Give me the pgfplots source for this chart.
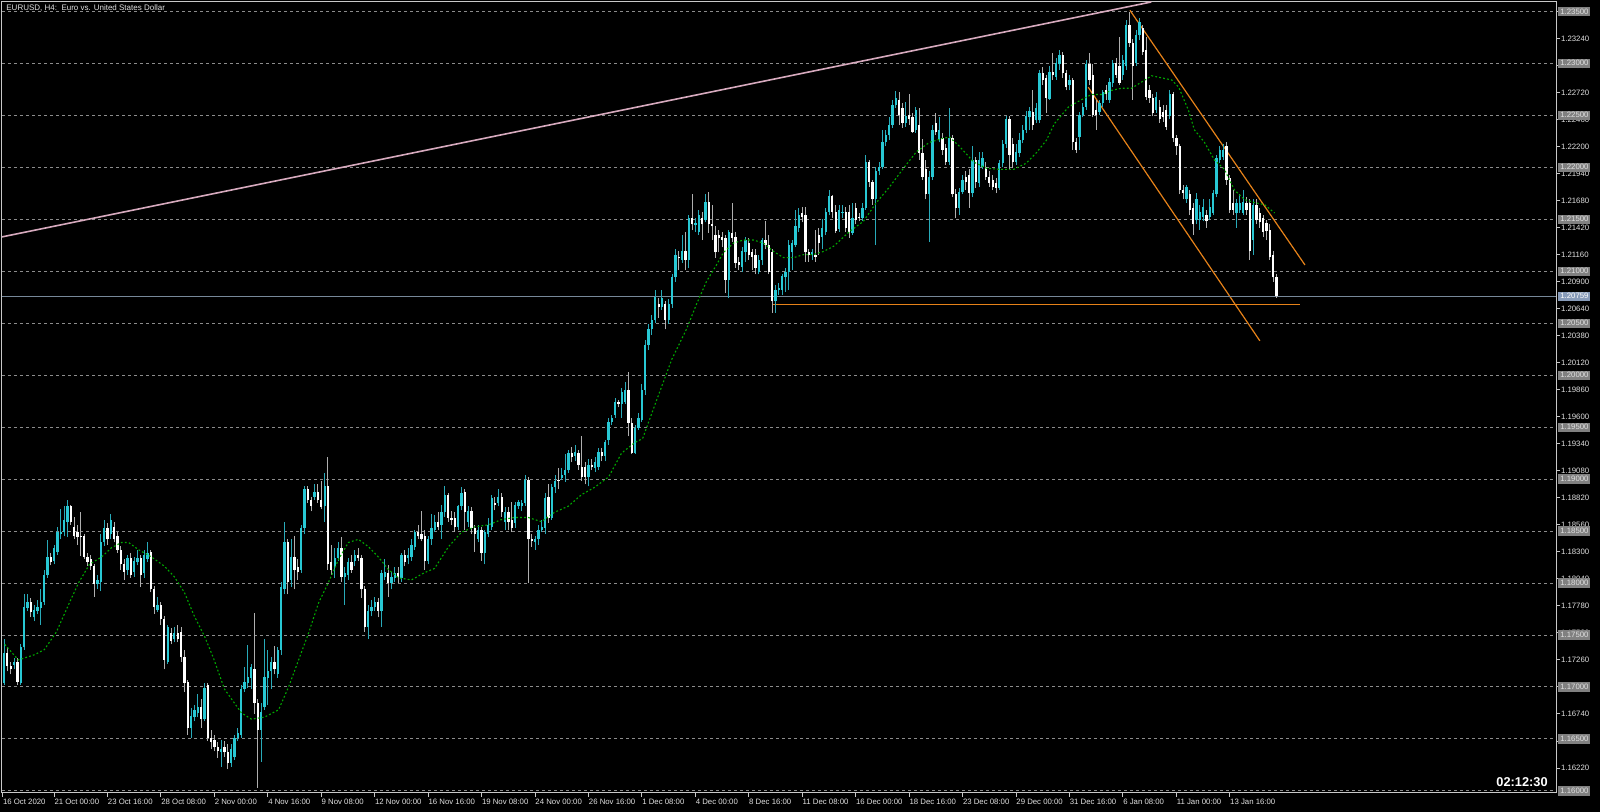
\documentclass[border=0pt]{standalone}
\usepackage{pgfplots}
\pgfplotsset{compat=1.18}
\usepackage{pgfplotstable}
\usepackage{fontspec}
\setmainfont{Liberation Sans}

\definecolor{bull}{RGB}{40,200,212}
\definecolor{bullwick}{RGB}{40,170,185}
\definecolor{bear}{RGB}{255,255,255}
\definecolor{bearwick}{RGB}{175,175,175}
\definecolor{maline}{RGB}{0,170,0}
\definecolor{trendpink}{RGB}{215,170,190}
\definecolor{chanorange}{RGB}{230,130,25}
\definecolor{bidline}{RGB}{119,136,153}
\definecolor{bidbox}{RGB}{135,155,185}
\definecolor{gridgray}{RGB}{140,140,140}
\definecolor{framegray}{RGB}{200,200,200}
\definecolor{boxgray}{RGB}{128,128,128}
\definecolor{labelgray}{RGB}{225,225,225}

\newcommand\tickfont{\fontsize{3.9}{4.5}\selectfont}

% EURUSD H4 candles, prices in pips (1.1704 -> 11704), one row per bar from 16 Oct 2020
\pgfplotstableread{
o h l c
11704 11746 11702 11733
11733 11738 11715 11720
11720 11724 11712 11717
11721 11728 11717 11724
11724 11728 11702 11705
11704 11741 11702 11738
11738 11789 11736 11777
11776 11789 11773 11782
11782 11786 11767 11772
11767 11779 11763 11774
11773 11784 11770 11777
11776 11794 11760 11782
11782 11813 11779 11808
11808 11841 11805 11825
11825 11829 11817 11820
11821 11837 11818 11834
11830 11854 11827 11849
11847 11871 11842 11849
11849 11874 11845 11861
11859 11880 11844 11874
11874 11875 11856 11859
11854 11864 11842 11845
11849 11856 11837 11844
11845 11868 11826 11844
11845 11847 11823 11825
11825 11829 11816 11820
11823 11827 11813 11816
11816 11818 11787 11799
11799 11808 11794 11803
11801 11847 11792 11839
11839 11861 11836 11853
11853 11858 11837 11842
11847 11866 11842 11861
11854 11859 11839 11842
11845 11849 11829 11832
11832 11836 11813 11818
11818 11823 11803 11811
11813 11827 11808 11824
11824 11829 11805 11808
11811 11825 11806 11821
11820 11832 11817 11824
11824 11827 11796 11808
11810 11832 11805 11827
11823 11839 11820 11829
11830 11832 11791 11794
11794 11797 11770 11777
11774 11787 11772 11779
11779 11782 11760 11765
11765 11768 11717 11726
11724 11760 11722 11758
11752 11757 11741 11744
11746 11758 11743 11752
11752 11760 11743 11746
11753 11758 11724 11729
11729 11736 11695 11704
11705 11707 11654 11661
11661 11680 11651 11672
11671 11683 11667 11678
11675 11693 11671 11681
11681 11688 11661 11669
11669 11704 11667 11699
11702 11704 11648 11651
11651 11659 11640 11647
11649 11654 11638 11642
11642 11647 11632 11638
11637 11649 11623 11640
11642 11648 11633 11637
11637 11645 11621 11627
11627 11645 11623 11640
11633 11654 11630 11651
11651 11661 11648 11656
11654 11702 11651 11698
11698 11719 11695 11705
11704 11740 11699 11710
11709 11722 11698 11719
11717 11771 11674 11685
11685 11688 11603 11659
11659 11685 11628 11676
11681 11746 11678 11710
11709 11736 11683 11715
11715 11729 11698 11724
11724 11739 11712 11717
11712 11738 11709 11736
11736 11801 11731 11796
11794 11859 11789 11839
11839 11842 11789 11801
11803 11842 11796 11825
11825 11845 11794 11813
11815 11823 11803 11811
11813 11856 11810 11853
11853 11893 11847 11890
11890 11893 11877 11880
11880 11883 11869 11874
11883 11895 11880 11888
11888 11895 11877 11880
11880 11898 11871 11873
11874 11906 11859 11893
11893 11921 11813 11818
11820 11837 11808 11813
11815 11834 11805 11824
11824 11839 11821 11834
11834 11844 11801 11806
11806 11815 11779 11810
11808 11824 11803 11820
11820 11827 11810 11813
11821 11832 11816 11827
11827 11834 11821 11824
11824 11827 11786 11794
11794 11797 11753 11758
11758 11779 11746 11773
11773 11784 11768 11777
11777 11787 11773 11782
11782 11786 11767 11773
11773 11813 11758 11810
11806 11823 11803 11811
11810 11817 11787 11800
11800 11811 11794 11806
11805 11815 11801 11810
11810 11815 11800 11806
11805 11829 11801 11827
11827 11832 11816 11820
11824 11834 11818 11827
11825 11842 11821 11837
11835 11851 11832 11849
11849 11856 11842 11845
11847 11869 11840 11842
11845 11851 11813 11821
11821 11845 11818 11842
11842 11866 11837 11853
11851 11865 11849 11859
11859 11868 11851 11854
11856 11875 11842 11868
11868 11893 11864 11885
11885 11887 11859 11863
11863 11869 11856 11861
11863 11868 11849 11854
11854 11875 11851 11874
11874 11892 11870 11887
11888 11890 11851 11868
11859 11874 11854 11869
11869 11873 11847 11853
11853 11856 11830 11847
11842 11856 11839 11851
11851 11854 11821 11829
11829 11851 11818 11849
11847 11863 11844 11856
11854 11885 11851 11882
11877 11883 11870 11875
11877 11890 11874 11883
11883 11887 11864 11868
11859 11873 11851 11868
11868 11873 11851 11859
11861 11878 11849 11853
11858 11878 11853 11875
11874 11880 11871 11878
11874 11880 11869 11877
11877 11904 11874 11899
11899 11902 11800 11842
11842 11847 11835 11840
11839 11845 11832 11842
11842 11856 11837 11851
11851 11861 11849 11854
11853 11887 11847 11882
11883 11895 11858 11863
11863 11895 11861 11892
11892 11904 11887 11898
11899 11911 11890 11898
11901 11911 11899 11904
11904 11924 11897 11909
11909 11928 11906 11925
11925 11931 11916 11921
11922 11933 11917 11926
11925 11928 11909 11914
11912 11941 11898 11902
11912 11916 11895 11902
11902 11919 11893 11914
11914 11919 11909 11912
11911 11921 11907 11916
11912 11930 11909 11926
11926 11930 11917 11922
11922 11938 11917 11936
11938 11959 11933 11955
11955 11962 11952 11959
11962 11978 11959 11974
11974 11976 11969 11972
11972 11988 11959 11984
11974 11993 11972 11986
11986 12003 11941 11954
11954 11959 11924 11925
11925 11952 11924 11949
11949 11964 11947 11959
11957 11991 11955 11986
11986 12034 11981 12029
12029 12049 12024 12044
12044 12058 12039 12053
12053 12082 12050 12075
12068 12074 12055 12066
12066 12082 12063 12074
12068 12071 12044 12053
12053 12073 12049 12068
12068 12097 12065 12094
12094 12121 12090 12116
12114 12119 12101 12113
12111 12135 12108 12119
12119 12138 12101 12111
12111 12154 12103 12151
12151 12174 12140 12145
12144 12151 12138 12146
12138 12159 12135 12154
12151 12157 12130 12145
12149 12174 12147 12167
12167 12176 12137 12145
12145 12164 12130 12143
12135 12143 12113 12118
12135 12140 12118 12132
12133 12138 12123 12130
12132 12135 12079 12092
12092 12140 12074 12138
12137 12166 12128 12132
12133 12138 12103 12108
12109 12114 12101 12106
12104 12123 12099 12119
12118 12133 12109 12130
12127 12132 12111 12116
12118 12121 12101 12114
12116 12121 12097 12103
12099 12116 12097 12111
12111 12132 12106 12130
12130 12148 12121 12125
12125 12135 12097 12099
12118 12121 12060 12071
12071 12087 12060 12082
12082 12089 12077 12084
12082 12097 12077 12095
12094 12103 12080 12099
12099 12130 12082 12125
12118 12130 12101 12127
12125 12159 12123 12143
12142 12161 12138 12154
12156 12162 12147 12152
12154 12162 12109 12118
12118 12121 12109 12116
12116 12121 12111 12118
12116 12140 12109 12114
12135 12142 12116 12127
12133 12150 12121 12142
12138 12161 12135 12157
12157 12178 12154 12172
12172 12173 12151 12157
12157 12164 12137 12139
12141 12164 12138 12159
12156 12164 12151 12157
12157 12162 12138 12142
12157 12164 12132 12138
12137 12166 12135 12151
12161 12166 12145 12149
12152 12156 12148 12151
12151 12166 12148 12161
12161 12212 12159 12205
12205 12207 12181 12186
12186 12188 12164 12169
12169 12200 12125 12196
12196 12205 12193 12200
12200 12236 12198 12224
12224 12236 12220 12231
12231 12248 12226 12241
12241 12265 12238 12260
12260 12273 12257 12267
12265 12272 12241 12250
12257 12262 12238 12243
12243 12263 12239 12249
12250 12270 12241 12246
12248 12252 12233 12234
12236 12258 12233 12255
12241 12257 12207 12214
12214 12227 12188 12191
12198 12207 12169 12174
12174 12196 12128 12191
12191 12241 12188 12236
12243 12252 12231 12234
12226 12248 12224 12236
12228 12233 12212 12217
12219 12222 12202 12205
12205 12257 12202 12228
12228 12231 12171 12174
12174 12179 12151 12161
12161 12180 12154 12176
12176 12193 12174 12188
12191 12196 12178 12186
12193 12198 12161 12175
12175 12220 12171 12207
12207 12210 12180 12186
12185 12215 12181 12207
12200 12215 12198 12209
12200 12205 12188 12191
12191 12196 12181 12185
12188 12193 12178 12181
12185 12190 12175 12180
12180 12207 12178 12204
12204 12226 12200 12222
12222 12249 12219 12246
12246 12249 12198 12212
12222 12228 12199 12205
12205 12222 12202 12215
12214 12233 12210 12226
12226 12241 12223 12236
12236 12254 12233 12249
12248 12258 12236 12254
12253 12274 12236 12241
12245 12262 12243 12257
12245 12294 12243 12291
12291 12296 12279 12284
12286 12289 12252 12267
12266 12297 12265 12292
12292 12310 12284 12289
12287 12305 12284 12300
12299 12313 12294 12308
12308 12311 12286 12291
12291 12294 12274 12277
12279 12289 12274 12284
12284 12286 12217 12224
12224 12228 12214 12217
12229 12253 12217 12250
12250 12262 12248 12258
12258 12303 12255 12299
12299 12310 12279 12284
12289 12299 12248 12250
12255 12265 12236 12250
12253 12265 12250 12262
12262 12274 12258 12272
12274 12279 12265 12270
12265 12286 12262 12282
12281 12303 12277 12300
12300 12305 12286 12289
12297 12325 12279 12281
12289 12308 12284 12303
12297 12342 12294 12337
12337 12349 12316 12320
12320 12323 12265 12297
12300 12332 12297 12327
12327 12344 12322 12340
12334 12337 12308 12311
12313 12325 12265 12268
12274 12279 12262 12267
12267 12270 12249 12252
12255 12272 12252 12268
12258 12265 12243 12246
12253 12260 12244 12248
12255 12260 12236 12239
12249 12274 12246 12270
12270 12272 12224 12228
12228 12231 12212 12220
12220 12222 12174 12178
12178 12183 12169 12175
12169 12183 12166 12181
12174 12178 12154 12159
12161 12166 12135 12145
12149 12175 12145 12169
12149 12164 12140 12157
12152 12169 12148 12162
12154 12159 12142 12148
12152 12169 12149 12162
12156 12178 12154 12175
12174 12212 12171 12209
12207 12220 12204 12217
12210 12222 12207 12217
12220 12224 12183 12188
12190 12193 12156 12159
12166 12178 12154 12159
12156 12169 12142 12166
12159 12174 12156 12166
12156 12178 12154 12167
12166 12171 12154 12159
12166 12169 12111 12119
12130 12169 12116 12164
12164 12169 12145 12149
12156 12161 12142 12147
12151 12154 12133 12138
12146 12149 12130 12139
12140 12145 12111 12114
12116 12119 12090 12094
12094 12097 12074 12076
}\eurusd

% moving average
\pgfplotstableread{
i ma
0.2 11741
4.3 11726
9.1 11731
12.1 11736
15.7 11753
19.3 11779
22.3 11800
25.6 11818
29.2 11825
32.2 11834
35.2 11839
37.3 11839
40.3 11832
44.2 11825
48.1 11816
51.0 11806
54.0 11791
57.0 11768
60.0 11749
62.7 11728
66.0 11698
71.1 11675
74.1 11669
78.0 11671
82.2 11678
85.2 11700
88.2 11726
91.2 11752
94.2 11781
97.2 11801
100.2 11823
103.1 11839
106.1 11842
109.1 11835
112.1 11825
115.1 11813
118.1 11805
122.0 11803
125.9 11810
128.9 11814
133.1 11835
137.0 11849
140.9 11854
145.1 11856
148.9 11861
152.8 11863
157.0 11863
160.9 11859
164.8 11868
169.0 11874
172.9 11885
176.8 11892
181.0 11902
184.9 11925
188.8 11935
191.2 11939
195.4 11976
199.9 12015
204.3 12044
207.3 12068
210.3 12090
213.3 12106
215.4 12118
218.4 12127
221.4 12130
224.4 12130
227.4 12127
230.4 12119
233.4 12113
236.4 12113
239.4 12116
242.4 12116
245.4 12119
248.4 12124
251.4 12133
253.1 12138
257.3 12148
261.2 12166
265.1 12181
269.3 12199
273.2 12215
277.1 12224
281.3 12228
283.1 12229
286.1 12220
290.3 12205
294.2 12199
298.1 12198
302.3 12198
306.1 12204
309.1 12214
312.1 12226
314.5 12242
318.7 12258
322.6 12265
325.6 12270
328.6 12270
331.6 12274
334.6 12276
337.6 12276
340.6 12282
343.6 12288
346.6 12286
349.6 12284
351.7 12277
354.6 12255
356.4 12236
359.4 12224
362.4 12207
365.4 12198
368.4 12178
371.4 12169
374.4 12166
377.4 12164
380.4 12156
}\matable

\tikzset{pricebox/.style={anchor=west, xshift=1pt, fill=boxgray, text=labelgray,
  inner sep=0pt, minimum width=16pt, minimum height=4.6pt, font=\tickfont}}

\begin{document}
\begin{tikzpicture}
\path[use as bounding box] (0,0) rectangle (800pt,406pt);
\fill[black] (0,0) rectangle (800pt,406pt);
\begin{axis}[
    at={(1pt,9.5pt)}, anchor=south west,
    scale only axis, width=777pt, height=395.5pt,
    xmin=-0.6, xmax=464.67, ymin=11598, ymax=12359,
    axis background/.style={fill=black},
    axis line style={draw=framegray, line width=0.5pt},
    clip=false,
    xtick={-0.4,15,31,47,63,79,95,111,127,143,159,175,191,207,223,239,255,271,287,303,319,335,351,367},
    xticklabels={16 Oct 2020,21 Oct 00:00,23 Oct 16:00,28 Oct 08:00,2 Nov 00:00,4 Nov 16:00,9 Nov 08:00,12 Nov 00:00,16 Nov 16:00,19 Nov 08:00,24 Nov 00:00,26 Nov 16:00,1 Dec 08:00,4 Dec 00:00,8 Dec 16:00,11 Dec 08:00,16 Dec 00:00,18 Dec 16:00,23 Dec 08:00,29 Dec 00:00,31 Dec 16:00,6 Jan 08:00,11 Jan 00:00,13 Jan 16:00},
    ytick={11622,11648,11674,11700,11726,11752,11778,11804,11830,11856,11882,11908,11934,11960,11986,12012,12038,12064,12090,12116,12142,12168,12194,12220,12246,12272,12298,12324,12350},
    yticklabels={1.16220,1.16480,1.16740,1.17000,1.17260,1.17520,1.17780,1.18040,1.18300,1.18560,1.18820,1.19080,1.19340,1.19600,1.19860,1.20120,1.20380,1.20640,1.20900,1.21160,1.21420,1.21680,1.21940,1.22200,1.22460,1.22720,1.22980,1.23240,1.23500},
    xtick pos=bottom, ytick pos=right, yticklabel pos=right,
    tick align=outside, major tick length=2pt,
    tick style={draw=framegray, line width=0.5pt},
    tick label style={font=\tickfont, text=labelgray},
    xticklabel style={anchor=north west, inner sep=0pt, yshift=-1pt},
    yticklabel style={anchor=west, inner sep=0pt, xshift=0.3pt},
    extra y ticks={11600,11650,11700,11750,11800,11850,11900,11950,12000,12050,12100,12150,12200,12250,12300,12350},
    extra y tick labels={},
    extra y tick style={grid=major, major tick length=0pt},
    major grid style={draw=gridgray, line width=0.5pt, dash pattern=on 1.5pt off 1.5pt},
    candle/.style={draw=none, no markers},
    after end axis/.code={
      \foreach \v/\t in {11600/1.16000,11650/1.16500,11700/1.17000,11750/1.17500,11800/1.18000,11850/1.18500,11900/1.19000,11950/1.19500,12000/1.20000,12050/1.20500,12100/1.21000,12150/1.21500,12200/1.22000,12250/1.22500,12300/1.23000,12350/1.23500}{
        \node[pricebox] at (axis cs:464.67,\v) {\t};
      }
      \node[pricebox, fill=bidbox, text=white] at (axis cs:464.67,12075.9) {1.20759};
    },
]
% trend line and channel
\addplot[trendpink, line width=0.8pt] coordinates {(-0.6,12133) (343.5,12359)};
\addplot[chanorange, line width=0.6pt] coordinates {(337.1,12351) (389.5,12106)};
\addplot[chanorange, line width=0.6pt] coordinates {(324.6,12277) (376.0,12033)};
\addplot[draw=chanorange, line width=0.8pt] coordinates {(230.2,12068) (388.0,12068)};
% bid line
\addplot[bidline, line width=0.5pt] coordinates {(-0.6,12075.9) (464.67,12075.9)};
% wicks
\addplot[candle,
    restrict expr to domain={\thisrow{c}-\thisrow{o}}{0:2000},
    error bars/.cd, y dir=plus, y explicit, error mark=none,
    error bar style={line width=0.5pt, draw=bullwick}]
    table[x expr=\coordindex, y=l, y error expr=\thisrow{h}-\thisrow{l}] {\eurusd};
\addplot[candle,
    restrict expr to domain={\thisrow{c}-\thisrow{o}}{-2000:-0.5},
    error bars/.cd, y dir=plus, y explicit, error mark=none,
    error bar style={line width=0.5pt, draw=bearwick}]
    table[x expr=\coordindex, y=l, y error expr=\thisrow{h}-\thisrow{l}] {\eurusd};
% bodies
\addplot[candle,
    restrict expr to domain={\thisrow{c}-\thisrow{o}}{0:2000},
    error bars/.cd, y dir=plus, y explicit, error mark=none,
    error bar style={line width=1.15pt, draw=bull}]
    table[x expr=\coordindex, y=o, y error expr=\thisrow{c}-\thisrow{o}] {\eurusd};
\addplot[candle,
    restrict expr to domain={\thisrow{c}-\thisrow{o}}{-2000:-0.5},
    error bars/.cd, y dir=plus, y explicit, error mark=none,
    error bar style={line width=1.15pt, draw=bear}]
    table[x expr=\coordindex, y=c, y error expr=\thisrow{o}-\thisrow{c}] {\eurusd};
% moving average
\addplot[maline, line width=0.55pt, dash pattern=on 0.9pt off 1.1pt] table[x=i, y=ma] {\matable};
\end{axis}
\node[anchor=west, font=\fontsize{4}{4.6}\selectfont, text=labelgray, inner sep=0pt] at (3pt,402pt)
  {EURUSD,\ H4:\ \ Euro vs. United States Dollar};
\node[font=\fontsize{6.4}{7}\selectfont\bfseries, text=white, inner sep=0pt] at (761pt,15pt) {02:12:30};
\end{tikzpicture}
\end{document}
